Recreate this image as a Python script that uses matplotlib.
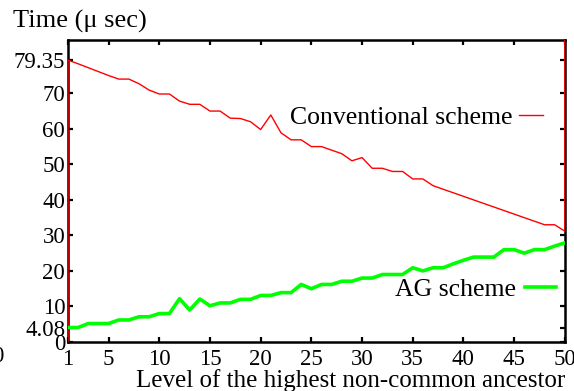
import numpy as np
import matplotlib.pyplot as plt

plt.rcParams['font.family'] = 'Liberation Serif'
plt.rcParams['font.size'] = 16.5

# level of the highest non-common ancestor
levels = np.arange(1, 51)

# conventional scheme (micro sec)
conv_time = [79.35, 78.3, 77.2, 76.1, 75.0, 74.0, 74.0, 72.7, 70.9, 69.8,
             69.8, 67.8, 66.9, 66.9, 65.0, 65.0, 63.0, 62.9, 62.0, 59.8,
             63.9, 58.9, 56.9, 56.9, 55.0, 55.0, 54.0, 53.0, 51.0, 51.9,
             48.9, 48.9, 48.0, 48.0, 45.9, 45.9, 44.0, 43.0, 42.0, 41.0,
             40.0, 39.0, 38.0, 37.0, 36.0, 35.0, 34.0, 33.0, 33.0, 31.2]

# AG scheme (micro sec)
ag_time = [4.08, 4.08, 5.2, 5.2, 5.2, 6.2, 6.2, 7.1, 7.1, 8.0,
           8.0, 12.2, 9.0, 12.1, 10.2, 11.0, 11.0, 12.0, 12.0, 13.1,
           13.1, 13.9, 13.9, 16.2, 15.0, 16.2, 16.2, 17.1, 17.1, 18.0,
           18.0, 19.0, 19.0, 19.0, 20.9, 20.0, 20.9, 20.9, 22.0, 23.0,
           23.9, 23.9, 23.9, 26.0, 26.0, 25.0, 26.0, 26.0, 27.0, 27.9]

# the conventional curve is closed by vertical segments at both ends
conv_x = np.concatenate([[1], levels, [50]])
conv_y = np.concatenate([[0], conv_time, [85]])

yticks = [0, 4.08, 10, 20, 30, 40, 50, 60, 70, 79.35]
ytick_labels = ['0', '4.08', '10', '20', '30', '40', '50', '60', '70', '79.35']
xticks = [1, 5, 10, 15, 20, 25, 30, 35, 40, 45, 50]

fig = plt.figure(figsize=(5.74, 3.91), dpi=100)
ax = fig.add_axes([0.1185, 0.1253, 0.8655, 0.7724])

l1, = ax.plot(conv_x, conv_y, color='#ff0000', lw=1.0, label='Conventional scheme', zorder=3)
l2, = ax.plot(levels, ag_time, color='#00ff00', lw=2.6, label='AG scheme', zorder=3)

ax.set_xlim(1, 50)
ax.set_ylim(0, 85)
ax.set_xticks(xticks)
ax.set_yticks(yticks)
ax.set_yticklabels(ytick_labels)
ax.tick_params(direction='in', length=3.5, width=1.6, top=True, right=True, pad=5)
ax.tick_params(axis='y', pad=2)
for s in ax.spines.values():
    s.set_linewidth(1.8)

leg1 = ax.legend(handles=[l1], loc='center right', bbox_to_anchor=(0.956, 0.742),
                 frameon=False, markerfirst=False, borderpad=0, borderaxespad=0,
                 handlelength=0.95, handletextpad=0.25, fontsize=18.5)
ax.add_artist(leg1)
ax.legend(handles=[l2], loc='center right', bbox_to_anchor=(0.982, 0.175),
          frameon=False, markerfirst=False, borderpad=0, borderaxespad=0,
          handlelength=1.2, handletextpad=0.35, fontsize=18.5)

fig.text(0.022, 0.945, 'Time (\u03bc sec)', ha='left', va='center', fontsize=19)
fig.text(0.984, 0.026, 'Level of the highest non-common ancestor', ha='right',
         va='center', fontsize=18)
fig.text(0.006, 0.087, '0', ha='right', va='center', fontsize=16.5)

fig.savefig('out.png', dpi=100)
